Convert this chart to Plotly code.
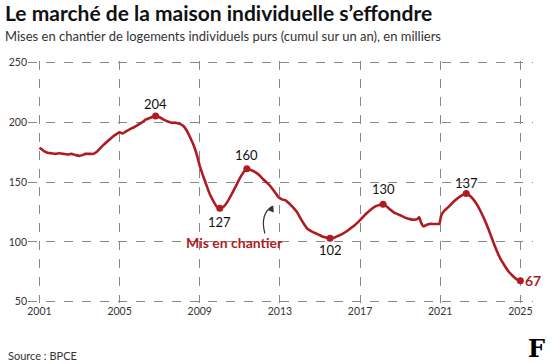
import plotly.graph_objects as go

# ---- data ----
years = [2001.0, 2001.1, 2001.25, 2001.4, 2001.6, 2001.8, 2002.0, 2002.2, 2002.4, 2002.6, 2002.8,
         2003.0, 2003.15, 2003.3, 2003.5, 2003.7, 2003.85, 2004.0, 2004.2, 2004.4, 2004.6, 2004.8,
         2005.0, 2005.15, 2005.3, 2005.5, 2005.7, 2005.9, 2006.1, 2006.3, 2006.5, 2006.8,
         2007.0, 2007.2, 2007.4, 2007.6, 2007.8, 2008.0, 2008.2, 2008.35, 2008.5, 2008.7, 2008.85,
         2009.0, 2009.15, 2009.3, 2009.5, 2009.7, 2009.85, 2010.0, 2010.2, 2010.4, 2010.6, 2010.8,
         2011.0, 2011.2, 2011.35, 2011.55, 2011.75, 2011.95, 2012.15, 2012.35, 2012.55, 2012.75, 2012.95,
         2013.1, 2013.3, 2013.5, 2013.7, 2013.85, 2014.0, 2014.2, 2014.4, 2014.6, 2014.8,
         2015.0, 2015.2, 2015.5, 2015.7, 2015.9, 2016.1, 2016.3, 2016.5, 2016.7, 2016.9,
         2017.1, 2017.3, 2017.5, 2017.7, 2017.9, 2018.15, 2018.3, 2018.5, 2018.7, 2018.9,
         2019.1, 2019.3, 2019.5, 2019.7, 2019.85, 2019.95, 2020.05, 2020.15, 2020.3, 2020.45,
         2020.6, 2020.8, 2020.95, 2021.05, 2021.2, 2021.4, 2021.6, 2021.8, 2022.0, 2022.15, 2022.3,
         2022.45, 2022.6, 2022.8, 2023.0, 2023.2, 2023.4, 2023.6, 2023.8, 2024.0, 2024.2, 2024.4,
         2024.6, 2024.8, 2025.0]
values = [178.5, 177.5, 175.5, 174.5, 174, 173.5, 174, 173.5, 173, 173.5, 172.5,
          171.8, 172.5, 173.5, 173.5, 173.5, 175, 177.5, 181, 184, 187, 189.5,
          191.5, 190.5, 192, 194, 195.5, 197.5, 199.5, 202, 203.5, 205,
          204, 202, 200.5, 199.5, 199.5, 198.5, 196.5, 193, 188, 180.5, 173,
          163.5, 156, 149, 140, 133.5, 129.5, 128, 129.5, 134, 140, 146.5,
          153, 158.5, 161, 160, 158.5, 156, 152.5, 149.5, 146, 141.5, 137,
          135.5, 134.5, 131.5, 128, 125, 120.5, 115, 110.5, 108.5, 107,
          105.5, 104, 103, 103.5, 105, 106.5, 108.5, 111, 113.5, 116.5,
          120, 123.5, 126.5, 129, 130.5, 131.5, 130, 127, 124.5, 123,
          121.5, 120, 119, 118.5, 119, 120.5, 116, 113, 114, 115,
          115, 115, 115, 122, 126, 129, 132.5, 135.5, 138, 139.5, 140.5,
          139, 136.5, 132, 126, 119, 111, 102, 93.5, 86, 80.5, 75.5,
          72, 69, 67.5]

hl_years = [2006.8, 2010.0, 2011.35, 2015.5, 2018.15, 2022.3, 2025.0]
hl_values = [205, 128, 161, 103, 131.5, 140.5, 67.5]
hl_labels = ["204", "127", "160", "102", "130", "137", "67"]
hl_shift = [12, -14, 14, -12, 15, 10, 0]

x_ticks = [2001, 2005, 2009, 2013, 2017, 2021, 2025]
y_ticks = [50, 100, 150, 200, 250]

RED = "#AE1C22"
FONT = "Lato"

fig = go.Figure()
fig.add_trace(go.Scatter(x=years, y=values, mode="lines",
                         line=dict(color=RED, width=2.6, shape="spline", smoothing=0.6),
                         hoverinfo="skip", showlegend=False))
fig.add_trace(go.Scatter(x=hl_years, y=hl_values, mode="markers",
                         marker=dict(color=RED, size=7), hoverinfo="skip", showlegend=False))

annotations = []
for xv, yv, lab, sh in zip(hl_years, hl_values, hl_labels, hl_shift):
    if lab == "67":
        annotations.append(dict(x=xv, y=yv, text="<b>67</b>", showarrow=False, xanchor="left",
                                xshift=3, font=dict(family=FONT, size=14, color=RED)))
    else:
        annotations.append(dict(x=xv, y=yv, text=lab, showarrow=False, yshift=sh,
                                font=dict(family=FONT, size=13, color="#111")))

# "Mis en chantier" label with arrow
annotations.append(dict(x=2010.75, y=99.5, text="<b>Mis en chantier</b>", showarrow=False,
                        font=dict(family=FONT, size=14, color=RED)))
annotations.append(dict(x=2012.67, y=130.6, ax=-3, ay=7, axref="pixel", ayref="pixel",
                        text="", showarrow=True, arrowhead=2, arrowsize=1.1, arrowwidth=1.2,
                        arrowcolor="#333"))

# title etc.
annotations.append(dict(xref="paper", yref="paper", x=0, y=1, text="<b>Le marché de la maison individuelle s’effondre</b>",
                        showarrow=False, xanchor="left", yanchor="bottom", xshift=-25, yshift=34,
                        font=dict(family=FONT, size=21, color="#111")))
annotations.append(dict(xref="paper", yref="paper", x=0, y=1,
                        text="Mises en chantier de logements individuels purs (cumul sur un an), en milliers",
                        showarrow=False, xanchor="left", yanchor="bottom", xshift=-25, yshift=15,
                        font=dict(family=FONT, size=13, color="#333")))
annotations.append(dict(xref="paper", yref="paper", x=0, y=0, text="Source : BPCE",
                        showarrow=False, xanchor="left", yanchor="top", xshift=-22, yshift=-44,
                        font=dict(family=FONT, size=11, color="#333")))
annotations.append(dict(xref="paper", yref="paper", x=1, y=0, text="<b>F</b>",
                        showarrow=False, xanchor="right", yanchor="top", xshift=14, yshift=-29,
                        font=dict(family="DejaVu Serif", size=24, color="#000")))

fig.update_layout(
    width=553, height=364,
    margin=dict(l=28, r=20, t=60.5, b=61.1),
    paper_bgcolor="white", plot_bgcolor="white",
    annotations=annotations,
    shapes=[dict(type="path", xref="x", yref="y",
                 path="M 2012.25 107 Q 2012.0 123 2012.6 129.5",
                 line=dict(color="#333", width=1.2))],
    font=dict(family=FONT, size=10, color="#333"),
)
fig.update_xaxes(range=[2000.43, 2025.63], tickvals=x_ticks, ticktext=[str(t) for t in x_ticks],
                 showgrid=True, gridcolor="#888", griddash="dash", gridwidth=1, automargin=False,
                 zeroline=False, showline=False, ticks="", tickfont=dict(size=10.5, color="#333"))
fig.update_yaxes(range=[49, 251], tickvals=y_ticks, showgrid=True, gridcolor="#888", automargin=False,
                 griddash="dash", gridwidth=1, zeroline=False, showline=False, ticks="",
                 tickfont=dict(size=10.5, color="#333"))

fig.write_html("out.html", config={"displayModeBar": False},
               post_script="document.body.style.margin='0';document.body.style.overflow='hidden';")
